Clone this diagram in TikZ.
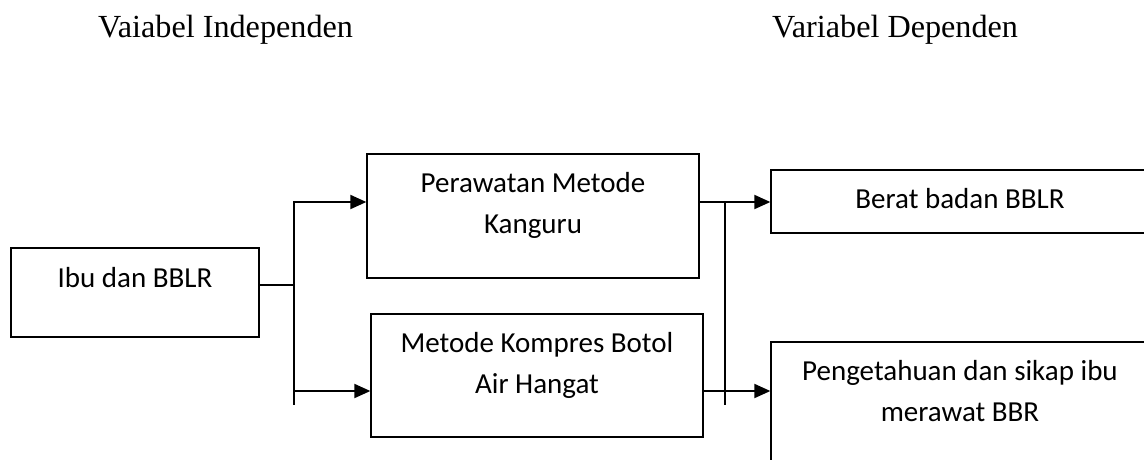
\documentclass[tikz,border=0pt]{standalone}
\usepackage{fontspec}
\setmainfont{Carlito}
\newfontfamily\hdrfont{Liberation Serif}
\usetikzlibrary{arrows.meta}
\tikzset{
  box/.style={draw=black, line width=1.3pt, inner sep=0pt},
  linetxt/.style={anchor=base, inner sep=0pt, font=\fontsize{29}{41}\selectfont},
  hdr/.style={anchor=base west, inner sep=0pt, font=\hdrfont\fontsize{32.2}{38}\selectfont},
  conn/.style={line width=1.9pt},
  arr/.style={conn, -{Triangle[length=16pt,width=14pt]}}
}
\begin{document}
\begin{tikzpicture}[x=1pt,y=-1pt]
\clip (0,0) rectangle (1144,459);
\fill[white] (0,0) rectangle (1144,459);
% headers
\node[hdr] (hind) at (98,37) {Vaiabel Independen};
\node[hdr] (hdep) at (772,37) {Variabel Dependen};
% boxes
\node[box, minimum width=248pt, minimum height=89pt] (ibu) at (135,292.5) {};
\node[box, minimum width=332pt, minimum height=124pt] (pmk) at (533,216) {};
\node[box, minimum width=332pt, minimum height=123pt] (kbh) at (537,375.5) {};
\node[box, minimum width=420pt, minimum height=63pt] (bb) at (981,201.5) {};
\node[box, minimum width=420pt, minimum height=160pt] (pbb) at (981,422) {};
% texts
\node[linetxt] (tibu) at (135,287) {Ibu dan BBLR};
\node[linetxt] (tpmk1) at (533,192) {Perawatan Metode};
\node[linetxt] (tpmk2) at (533,233) {Kanguru};
\node[linetxt] (tkbh1) at (537,352) {Metode Kompres Botol};
\node[linetxt] (tkbh2) at (537,393) {Air Hangat};
\node[linetxt] (tbb) at (960,208) {Berat badan BBLR};
\node[linetxt] (tpbb1) at (960,380) {Pengetahuan dan sikap ibu};
\node[linetxt] (tpbb2) at (960,421) {merawat BBR};
% left connectors
\coordinate (jl) at (294,285);
\coordinate (lt) at (294,201);
\coordinate (lb) at (294,405);
\coordinate (la1) at (294,202);
\coordinate (la2) at (294,391);
\draw[conn, line width=1.3pt] (ibu.east |- jl) -- (jl);
\draw[conn] (lt) -- (lb);
\draw[arr] (la1) -- (la1 -| pmk.west);
\draw[arr] (la2) -- (la2 -| kbh.west);
% right connectors
\coordinate (rt) at (725,202);
\coordinate (rb) at (725,405);
\coordinate (ra2) at (725,391);
\draw[conn] (rt) -- (rb);
\draw[arr] (rt -| pmk.east) -- (rt -| bb.west);
\draw[arr] (ra2 -| kbh.east) -- (ra2 -| pbb.west);
\end{tikzpicture}
\end{document}
